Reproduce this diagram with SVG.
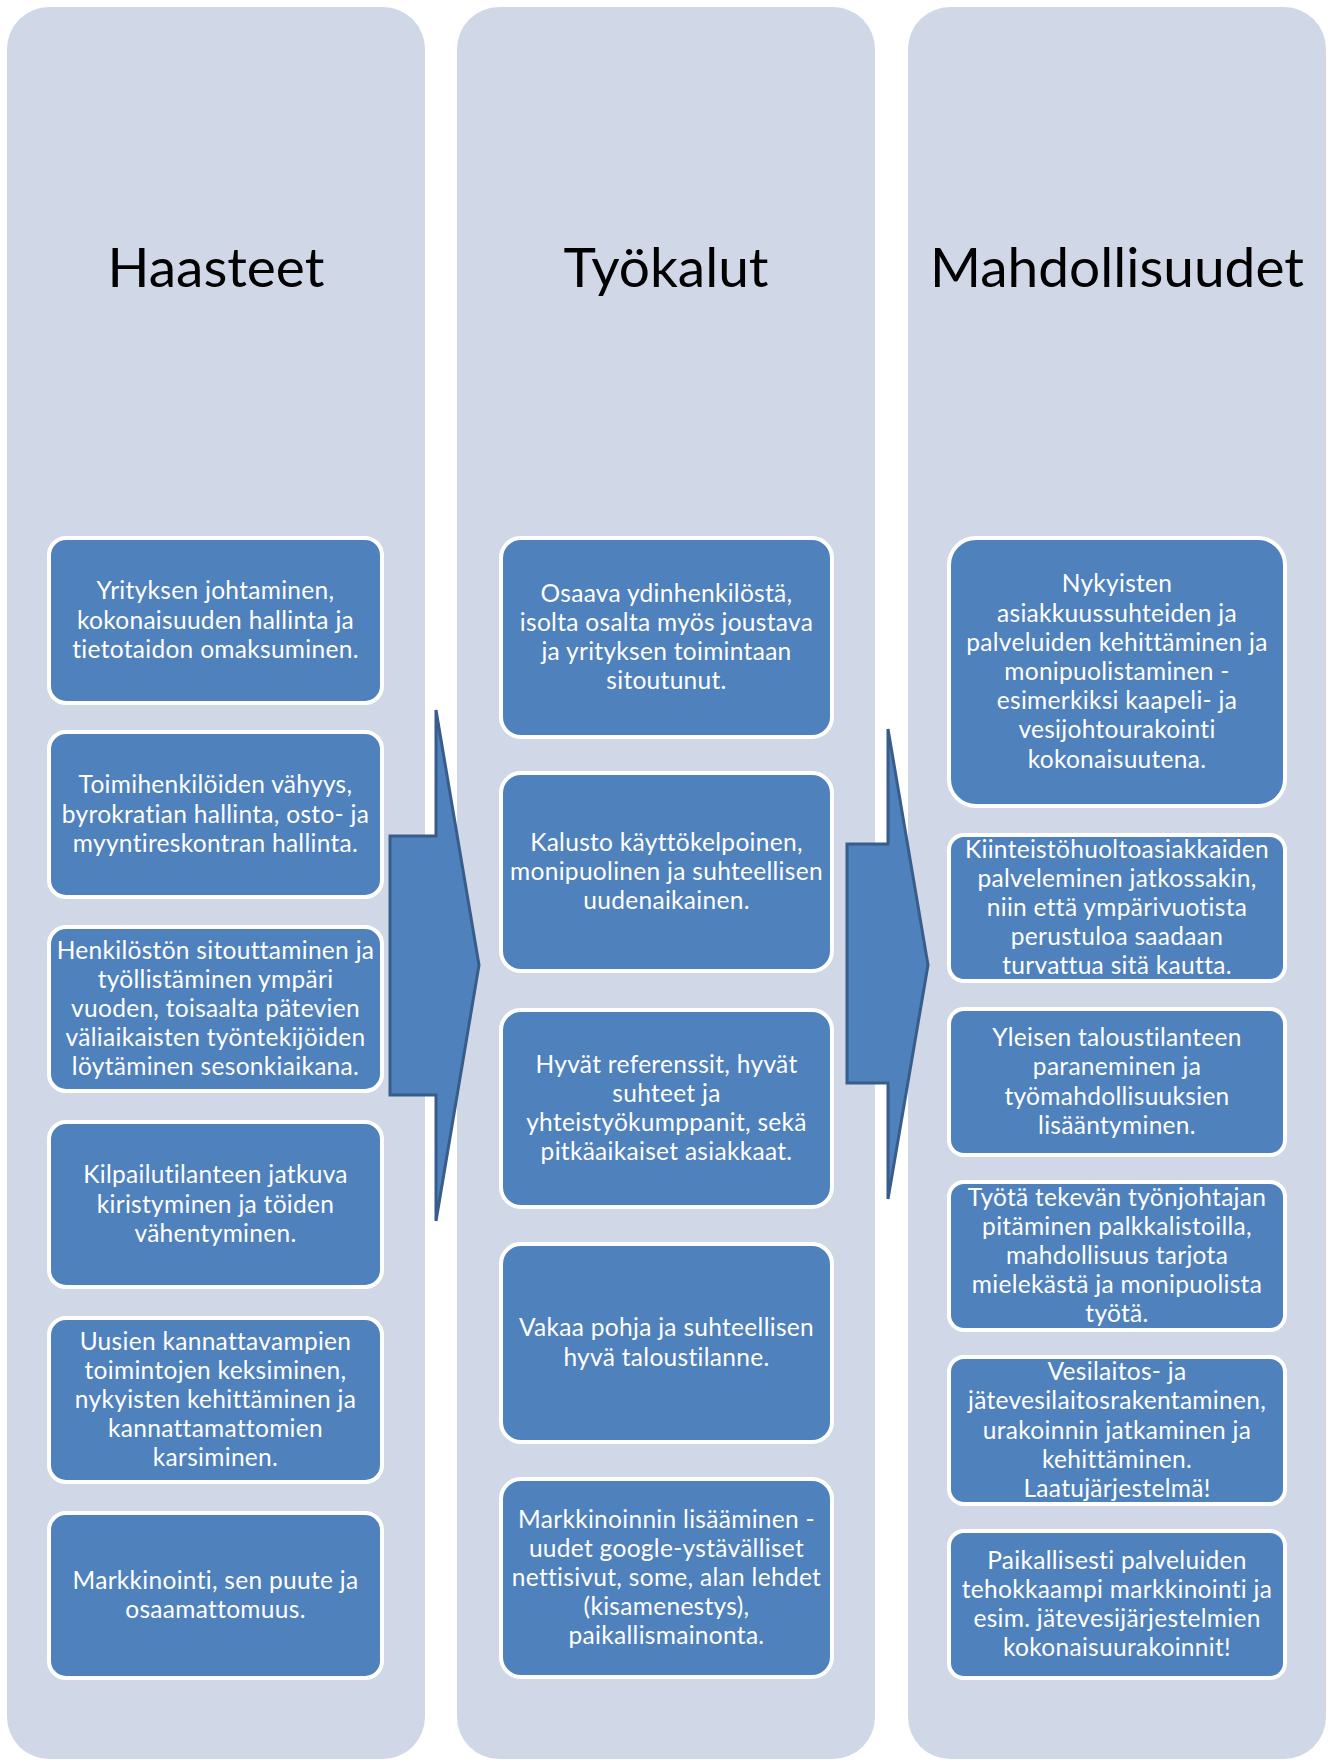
<svg xmlns="http://www.w3.org/2000/svg" width="1335" height="1762" viewBox="0 0 1335 1762">
<style>
.col{fill:#D0D8E8}
.box{fill:#4F81BD;stroke:#FFFFFF;stroke-width:4}
.ttl{font-family:Lato,"Liberation Sans",sans-serif;font-size:55px;fill:#000;text-anchor:middle}
.t{font-family:Lato,"Liberation Sans",sans-serif;font-size:24.5px;letter-spacing:0.3px;fill:#FFFFFF;text-anchor:middle}
.arrow{fill:#4F81BD;stroke:#385D8A;stroke-width:3;stroke-linejoin:miter}
</style>
<rect width="1335" height="1762" fill="#FFFFFF"/>
<g id="col-haasteet"><rect class="col" x="7" y="7" width="418" height="1752" rx="42"/><text class="ttl" x="216" y="287">Haasteet</text></g>
<g id="col-tyokalut"><rect class="col" x="457" y="7" width="418" height="1752" rx="42"/><text class="ttl" x="666" y="287">Työkalut</text></g>
<g id="col-mahdollisuudet"><rect class="col" x="908" y="7" width="418" height="1752" rx="42"/><text class="ttl" x="1117" y="287">Mahdollisuudet</text></g>
<g id="connectors">
<path class="arrow" d="M390,836 H436 V710 L479,965 L436,1221 V1095 H390 Z"/>
<path class="arrow" d="M847,844 H888 V729 L928,965 L888,1199 V1083 H847 Z"/>
</g>
<g id="b1"><rect class="box" x="49" y="538" width="333" height="165" rx="17"/><text class="t"><tspan x="215.5" y="599.3">Yrityksen johtaminen,</tspan><tspan x="215.5" y="628.5">kokonaisuuden hallinta ja</tspan><tspan x="215.5" y="657.7">tietotaidon omaksuminen.</tspan></text></g>
<g id="b2"><rect class="box" x="49" y="732" width="333" height="165" rx="17"/><text class="t"><tspan x="215.5" y="793.3">Toimihenkilöiden vähyys,</tspan><tspan x="215.5" y="822.5">byrokratian hallinta, osto- ja</tspan><tspan x="215.5" y="851.7">myyntireskontran hallinta.</tspan></text></g>
<g id="b3"><rect class="box" x="49" y="927" width="333" height="164" rx="17"/><text class="t"><tspan x="215.5" y="958.6">Henkilöstön sitouttaminen ja</tspan><tspan x="215.5" y="987.8">työllistäminen ympäri</tspan><tspan x="215.5" y="1017">vuoden, toisaalta pätevien</tspan><tspan x="215.5" y="1046.2">väliaikaisten työntekijöiden</tspan><tspan x="215.5" y="1075.4">löytäminen sesonkiaikana.</tspan></text></g>
<g id="b4"><rect class="box" x="49" y="1122" width="333" height="165" rx="17"/><text class="t"><tspan x="215.5" y="1183.3">Kilpailutilanteen jatkuva</tspan><tspan x="215.5" y="1212.5">kiristyminen ja töiden</tspan><tspan x="215.5" y="1241.7">vähentyminen.</tspan></text></g>
<g id="b5"><rect class="box" x="49" y="1318" width="333" height="164" rx="17"/><text class="t"><tspan x="215.5" y="1349.6">Uusien kannattavampien</tspan><tspan x="215.5" y="1378.8">toimintojen keksiminen,</tspan><tspan x="215.5" y="1408">nykyisten kehittäminen ja</tspan><tspan x="215.5" y="1437.2">kannattamattomien</tspan><tspan x="215.5" y="1466.4">karsiminen.</tspan></text></g>
<g id="b6"><rect class="box" x="49" y="1513" width="333" height="165" rx="17"/><text class="t"><tspan x="215.5" y="1588.9">Markkinointi, sen puute ja</tspan><tspan x="215.5" y="1618.1">osaamattomuus.</tspan></text></g>
<g id="c1"><rect class="box" x="501" y="538" width="331" height="199" rx="20"/><text class="t"><tspan x="666.5" y="601.7">Osaava ydinhenkilöstä,</tspan><tspan x="666.5" y="630.9">isolta osalta myös joustava</tspan><tspan x="666.5" y="660.1">ja yrityksen toimintaan</tspan><tspan x="666.5" y="689.3">sitoutunut.</tspan></text></g>
<g id="c2"><rect class="box" x="501" y="773" width="331" height="198" rx="20"/><text class="t"><tspan x="666.5" y="850.8">Kalusto käyttökelpoinen,</tspan><tspan x="666.5" y="880">monipuolinen ja suhteellisen</tspan><tspan x="666.5" y="909.2">uudenaikainen.</tspan></text></g>
<g id="c3"><rect class="box" x="501" y="1010" width="331" height="197" rx="20"/><text class="t"><tspan x="666.5" y="1072.7">Hyvät referenssit, hyvät</tspan><tspan x="666.5" y="1101.9">suhteet ja</tspan><tspan x="666.5" y="1131.1">yhteistyökumppanit, sekä</tspan><tspan x="666.5" y="1160.3">pitkäaikaiset asiakkaat.</tspan></text></g>
<g id="c4"><rect class="box" x="501" y="1244" width="331" height="198" rx="20"/><text class="t"><tspan x="666.5" y="1336.4">Vakaa pohja ja suhteellisen</tspan><tspan x="666.5" y="1365.6">hyvä taloustilanne.</tspan></text></g>
<g id="c5"><rect class="box" x="501" y="1479" width="331" height="198" rx="20"/><text class="t"><tspan x="666.5" y="1527.6">Markkinoinnin lisääminen -</tspan><tspan x="666.5" y="1556.8">uudet google-ystävälliset</tspan><tspan x="666.5" y="1586">nettisivut, some, alan lehdet</tspan><tspan x="666.5" y="1615.2">(kisamenestys),</tspan><tspan x="666.5" y="1644.4">paikallismainonta.</tspan></text></g>
<g id="d1"><rect class="box" x="949" y="538" width="336" height="268" rx="27"/><text class="t"><tspan x="1117" y="592.4">Nykyisten</tspan><tspan x="1117" y="621.6">asiakkuussuhteiden ja</tspan><tspan x="1117" y="650.8">palveluiden kehittäminen ja</tspan><tspan x="1117" y="680">monipuolistaminen -</tspan><tspan x="1117" y="709.2">esimerkiksi kaapeli- ja</tspan><tspan x="1117" y="738.4">vesijohtourakointi</tspan><tspan x="1117" y="767.6">kokonaisuutena.</tspan></text></g>
<g id="d2"><rect class="box" x="949" y="835" width="336" height="146" rx="15"/><text class="t"><tspan x="1117" y="857.6">Kiinteistöhuoltoasiakkaiden</tspan><tspan x="1117" y="886.8">palveleminen jatkossakin,</tspan><tspan x="1117" y="916">niin että ympärivuotista</tspan><tspan x="1117" y="945.2">perustuloa saadaan</tspan><tspan x="1117" y="974.4">turvattua sitä kautta.</tspan></text></g>
<g id="d3"><rect class="box" x="949" y="1009" width="336" height="146" rx="15"/><text class="t"><tspan x="1117" y="1046.2">Yleisen taloustilanteen</tspan><tspan x="1117" y="1075.4">paraneminen ja</tspan><tspan x="1117" y="1104.6">työmahdollisuuksien</tspan><tspan x="1117" y="1133.8">lisääntyminen.</tspan></text></g>
<g id="d4"><rect class="box" x="949" y="1182" width="336" height="148" rx="15"/><text class="t"><tspan x="1117" y="1205.6">Työtä tekevän työnjohtajan</tspan><tspan x="1117" y="1234.8">pitäminen palkkalistoilla,</tspan><tspan x="1117" y="1264">mahdollisuus tarjota</tspan><tspan x="1117" y="1293.2">mielekästä ja monipuolista</tspan><tspan x="1117" y="1322.4">työtä.</tspan></text></g>
<g id="d5"><rect class="box" x="949" y="1357" width="336" height="147" rx="15"/><text class="t"><tspan x="1117" y="1380.1">Vesilaitos- ja</tspan><tspan x="1117" y="1409.3">jätevesilaitosrakentaminen,</tspan><tspan x="1117" y="1438.5">urakoinnin jatkaminen ja</tspan><tspan x="1117" y="1467.7">kehittäminen.</tspan><tspan x="1117" y="1496.9">Laatujärjestelmä!</tspan></text></g>
<g id="d6"><rect class="box" x="949" y="1531" width="336" height="147" rx="15"/><text class="t"><tspan x="1117" y="1568.7">Paikallisesti palveluiden</tspan><tspan x="1117" y="1597.9">tehokkaampi markkinointi ja</tspan><tspan x="1117" y="1627.1">esim. jätevesijärjestelmien</tspan><tspan x="1117" y="1656.3">kokonaisuurakoinnit!</tspan></text></g>
</svg>
